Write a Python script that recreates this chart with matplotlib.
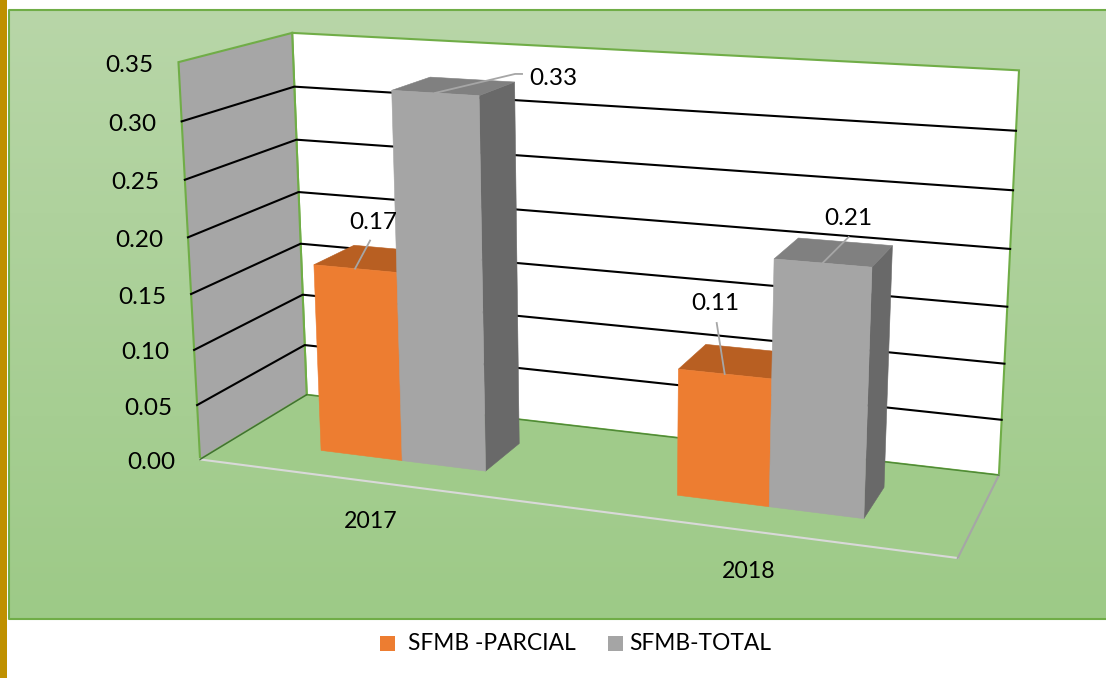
import numpy as np
import matplotlib
matplotlib.use('Agg')
import matplotlib.pyplot as plt
from matplotlib.patches import Polygon, Rectangle

plt.rcParams['font.family'] = ['Lato', 'DejaVu Sans']

years = ['2017', '2018']
parcial = [0.17, 0.11]
total = [0.327, 0.21]
series_names = ['SFMB -PARCIAL', 'SFMB-TOTAL']
ticks = [0.00, 0.05, 0.10, 0.15, 0.20, 0.25, 0.30, 0.35]
vmax = 0.35

# calibration of the 3d box: (u, depth, value) -> pixel on the picture
world = [(0, 0, 0), (1, 0, 0), (0, 1, 0), (1, 1, 0),
         (0, 0, 1), (0, 1, 1), (1, 1, 1),
         (0, 0, 6/7), (0, 1, 6/7), (1, 1, 6/7),
         (0, 1, 3/7), (1, 1, 3/7)]
pixel = [(200, 459), (958, 558), (307, 395), (999, 475),
         (178, 62), (293, 33), (1019, 70),
         (182, 122), (294, 86), (1016, 131),
         (300, 244), (1007, 307)]

def fit_camera(world, pixel):
    rows = []
    for (a, b, c), (x, y) in zip(world, pixel):
        x, y = x / 1000, y / 1000
        rows.append([a, b, c, 1, 0, 0, 0, 0, -x*a, -x*b, -x*c, -x])
        rows.append([0, 0, 0, 0, a, b, c, 1, -y*a, -y*b, -y*c, -y])
    return np.linalg.svd(np.array(rows))[2][-1].reshape(3, 4)

cam = fit_camera(world, pixel)

def proj(u, d, v):
    p = cam @ np.array([u, d, v / vmax, 1.0])
    return p[0] / p[2] * 1000, p[1] / p[2] * 1000

fig = plt.figure(figsize=(11.06, 6.78), dpi=100)
ax = fig.add_axes([0, 0, 1, 1])
ax.set_xlim(0, 1106)
ax.set_ylim(678, 0)
ax.axis('off')

GREEN = '#70AD47'

# page bits
ax.add_patch(Rectangle((0, 0), 7, 678, color='#BF9000', lw=0, zorder=1))
grad = np.linspace(0, 1, 256)[:, None, None]
top_c, bot_c = np.array([184, 214, 168]) / 255, np.array([157, 202, 135]) / 255
ax.imshow(top_c + (bot_c - top_c) * grad, extent=(9, 1106, 619, 10), aspect='auto', zorder=1)
ax.set_xlim(0, 1106)
ax.set_ylim(678, 0)
ax.plot([1106, 9, 9, 1106], [10, 10, 619, 619], color=GREEN, lw=1.5, zorder=2)

# walls and floor
back = [proj(0, 1, 0), proj(1, 1, 0), proj(1, 1, vmax), proj(0, 1, vmax)]
left = [proj(0, 0, 0), proj(0, 1, 0), proj(0, 1, vmax), proj(0, 0, vmax)]
floor = [proj(0, 0, 0), proj(1, 0, 0), proj(1, 1, 0), proj(0, 1, 0)]
ax.add_patch(Polygon(back, fc='white', ec=GREEN, lw=1.5, zorder=3))
ax.add_patch(Polygon(left, fc='#A6A6A6', ec=GREEN, lw=1.5, zorder=3))
ax.add_patch(Polygon(floor, fc='#A0CB8A', ec='none', zorder=3))

# the floor has a thin edge, pale in front and grey on the right
ax.plot(*zip(proj(0, 0, 0), proj(1, 0, 0)), color='#D9D9D9', lw=1.5, zorder=4)
ax.plot(*zip(proj(1, 0, 0), proj(1, 1, 0)), color='#A6A6A6', lw=1.5, zorder=4)
ax.plot(*zip(proj(0, 1, 0), proj(1, 1, 0)), color='#4F8A35', lw=1, zorder=4)
ax.plot(*zip(proj(0, 0, 0), proj(0, 1, 0)), color='#3F7030', lw=1, zorder=4)

for t in ticks:
    if 0 < t < vmax:
        pts = [proj(0, 0, t), proj(0, 1, t), proj(1, 1, t)]
        ax.plot(*zip(*pts), color='black', lw=1.5, zorder=4)
    fx, fy = proj(0, 0, t)
    ax.text(fx - 25, fy + 3, '%.2f' % t, ha='right', va='center', fontsize=17.5, color='black', zorder=8)

# bars
width = 0.119
d0, d1 = 0.29, 0.68

def draw_bar(u0, u1, val, front, side, top, z):
    # thin edge on the faces closes the seam between neighbouring bars
    ax.add_patch(Polygon([proj(u0, d0, 0), proj(u1, d0, 0), proj(u1, d0, val), proj(u0, d0, val)],
                         fc=front, ec=front, lw=0.4, zorder=z + 0.2))
    ax.add_patch(Polygon([proj(u1, d0, 0), proj(u1, d1, 0), proj(u1, d1, val), proj(u1, d0, val)],
                         fc=side, ec=side, lw=0.4, zorder=z))
    ax.add_patch(Polygon([proj(u0, d0, val), proj(u1, d0, val), proj(u1, d1, val), proj(u0, d1, val)],
                         fc=top, ec=top, lw=0.4, zorder=z + 0.1))

centers = [0.252, 0.751]
# label centre and leader end, both relative to the bar's front top edge
label_off = {0: [(18, -46), (118, -14)], 1: [(-9, -70), (26, -45)]}
leader_off = {0: [(15, -28), None], 1: [(-8, -51), (26, -26)]}
for i, c in enumerate(centers):
    draw_bar(c - width, c, parcial[i], '#ED7D31', '#B85F22', '#B85F22', 5)
    draw_bar(c, c + width, total[i], '#A5A5A5', '#696969', '#808080', 6)

    for j, (u, val) in enumerate([(c - width/2, parcial[i]), (c + width/2, total[i])]):
        bx, by = proj(u, d0, val)
        dx, dy = label_off[i][j]
        if leader_off[i][j] is None:
            # this one has an elbow towards the label
            xs, ys = [bx, bx + 80, bx + 87], [by, by - 19, by - 19]
        else:
            lx, ly = leader_off[i][j]
            xs, ys = [bx, bx + lx], [by, by + ly]
        ax.plot(xs, ys, color='#A6A6A6', lw=1.3, zorder=7)
        ax.text(bx + dx, by + dy, '%.2f' % val, ha='center', va='center', fontsize=17.5, zorder=8)

# category labels sit under the front edge
for c, name in zip(centers, years):
    fx, fy = proj(c, 0, 0)
    ax.text(fx - 2, fy + 40, name, ha='center', va='center', fontsize=16.7, zorder=8)

# legend
ax.add_patch(Rectangle((380, 636), 15, 15, color='#ED7D31', lw=0, zorder=8))
ax.text(408, 643.5, series_names[0], ha='left', va='center', fontsize=16.4, zorder=8)
ax.add_patch(Rectangle((608, 636), 15, 15, color='#A5A5A5', lw=0, zorder=8))
ax.text(629, 643.5, series_names[1], ha='left', va='center', fontsize=16.4, zorder=8)

fig.savefig('out.png', dpi=100)
